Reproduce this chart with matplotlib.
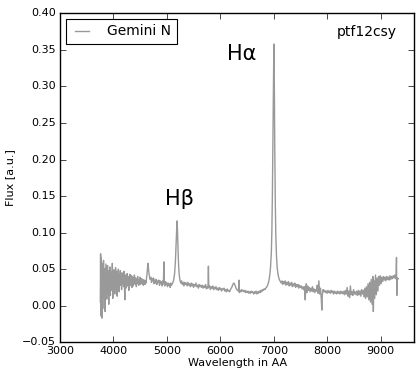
import matplotlib
matplotlib.use("Agg")
import matplotlib.pyplot as plt

# spectrum (wavelength in AA, flux in a.u.)
wave = [3755, 3760, 3765, 3770, 3775, 3780, 3785, 3790, 3795, 3800,
        3808, 3815, 3822, 3830, 3838, 3845, 3852, 3860, 3868, 3875,
        3883, 3890, 3898, 3905, 3913, 3920, 3928, 3935, 3943, 3950,
        3958, 3965, 3973, 3980, 3988, 3995, 4003, 4010, 4018, 4025,
        4033, 4040, 4048, 4055, 4063, 4070, 4078, 4085, 4093, 4100,
        4108, 4115, 4123, 4130, 4138, 4145, 4153, 4160, 4168, 4175,
        4183, 4190, 4198, 4205, 4213, 4220, 4228, 4235, 4243, 4250,
        4258, 4265, 4273, 4280, 4288, 4295, 4303, 4310, 4318, 4325,
        4333, 4340, 4348, 4355, 4363, 4370, 4378, 4385, 4393, 4400,
        4408, 4415, 4423, 4430, 4438, 4445, 4453, 4460, 4468, 4475,
        4483, 4490, 4498, 4505, 4513, 4520, 4528, 4535, 4543, 4550,
        4558, 4565, 4573, 4580, 4590, 4600, 4610, 4620, 4632, 4645,
        4655, 4665, 4675, 4688, 4700, 4712, 4725, 4738, 4750, 4762,
        4775, 4788, 4800, 4812, 4825, 4838, 4850, 4862, 4875, 4888,
        4900, 4912, 4925, 4935, 4945, 4950, 4962, 4975, 4988, 5000,
        5012, 5025, 5038, 5050, 5062, 5075, 5088, 5100, 5115, 5130,
        5145, 5160, 5170, 5180, 5190, 5200, 5210, 5220, 5232, 5245,
        5260, 5275, 5290, 5305, 5320, 5335, 5350, 5365, 5380, 5395,
        5410, 5425, 5440, 5455, 5470, 5485, 5500, 5515, 5530, 5545,
        5560, 5575, 5590, 5605, 5620, 5635, 5650, 5665, 5680, 5695,
        5710, 5725, 5740, 5755, 5770, 5778, 5785, 5800, 5815, 5830,
        5845, 5860, 5875, 5890, 5905, 5920, 5935, 5950, 5965, 5980,
        5995, 6010, 6025, 6040, 6055, 6070, 6085, 6100, 6115, 6130,
        6145, 6160, 6175, 6190, 6205, 6220, 6235, 6250, 6265, 6280,
        6295, 6310, 6325, 6340, 6350, 6357, 6370, 6385, 6400, 6415,
        6430, 6445, 6460, 6475, 6490, 6505, 6520, 6535, 6550, 6565,
        6580, 6595, 6610, 6625, 6640, 6655, 6670, 6685, 6700, 6715,
        6730, 6745, 6760, 6775, 6790, 6805, 6820, 6835, 6850, 6865,
        6880, 6895, 6910, 6925, 6940, 6955, 6965, 6975, 6985, 6995,
        7003, 7011, 7020, 7030, 7040, 7052, 7065, 7080, 7095, 7110,
        7125, 7140, 7155, 7170, 7185, 7200, 7215, 7230, 7245, 7260,
        7275, 7290, 7305, 7320, 7335, 7350, 7365, 7380, 7395, 7410,
        7425, 7440, 7455, 7470, 7485, 7500, 7515, 7530, 7545, 7560,
        7575, 7590, 7598, 7610, 7622, 7635, 7650, 7665, 7680, 7695,
        7710, 7725, 7740, 7755, 7770, 7785, 7800, 7815, 7830, 7845,
        7860, 7875, 7890, 7900, 7910, 7925, 7940, 7955, 7970, 7985,
        8000, 8015, 8030, 8045, 8060, 8075, 8090, 8105, 8120, 8135,
        8150, 8165, 8180, 8195, 8210, 8225, 8240, 8255, 8270, 8285,
        8300, 8315, 8330, 8345, 8360, 8375, 8390, 8405, 8420, 8435,
        8450, 8465, 8480, 8495, 8510, 8525, 8540, 8555, 8570, 8585,
        8600, 8615, 8630, 8645, 8660, 8675, 8690, 8705, 8720, 8735,
        8750, 8765, 8780, 8795, 8810, 8825, 8840, 8855, 8865, 8875,
        8890, 8905, 8920, 8935, 8950, 8965, 8980, 8995, 9010, 9025,
        9040, 9055, 9070, 9085, 9100, 9115, 9130, 9145, 9160, 9175,
        9190, 9205, 9220, 9235, 9250, 9265, 9280, 9290, 9298, 9303,
        9310, 9320, 9330]

flux = [0.005, 0.071, -0.014, 0.066, 0.022, 0.048, -0.017, 0.038, 0.058, -0.004,
        0.030, 0.062, 0.012, 0.044, 0.051, -0.008, 0.026, 0.057, 0.033, 0.009,
        0.041, 0.055, 0.018, 0.036, 0.002, 0.048, 0.029, 0.053, 0.014, 0.039,
        0.046, 0.021, 0.031, 0.058, 0.010, 0.037, 0.027, 0.049, 0.044, 0.016,
        0.035, 0.052, 0.024, 0.030, 0.047, 0.013, 0.040, 0.033, 0.050, 0.025,
        0.019, 0.043, 0.036, 0.048, 0.028, 0.034, 0.022, 0.045, 0.039, 0.030,
        0.041, 0.026, 0.047, 0.033, 0.008, 0.036, 0.042, 0.024, 0.038, 0.031,
        0.044, 0.027, 0.035, 0.040, 0.021, 0.037, 0.032, 0.043, 0.028, 0.036,
        0.030, 0.041, 0.025, 0.034, 0.039, 0.027, 0.036, 0.031, 0.042, 0.033,
        0.029, 0.038, 0.034, 0.026, 0.037, 0.032, 0.040, 0.030, 0.035, 0.028,
        0.036, 0.033, 0.039, 0.029, 0.034, 0.031, 0.037, 0.033, 0.030, 0.036,
        0.028, 0.033, 0.030, 0.035, 0.029, 0.034, 0.031, 0.038, 0.046, 0.058,
        0.052, 0.044, 0.040, 0.036, 0.039, 0.032, 0.037, 0.034, 0.038, 0.030,
        0.035, 0.031, 0.036, 0.029, 0.034, 0.032, 0.035, 0.028, 0.034, 0.030,
        0.033, 0.027, 0.034, 0.030, 0.060, 0.031, 0.027, 0.033, 0.029, 0.031,
        0.026, 0.031, 0.028, 0.030, 0.025, 0.031, 0.028, 0.030, 0.032, 0.036,
        0.044, 0.060, 0.080, 0.104, 0.116, 0.102, 0.075, 0.055, 0.042, 0.035,
        0.031, 0.034, 0.029, 0.032, 0.027, 0.032, 0.029, 0.031, 0.027, 0.032,
        0.028, 0.030, 0.026, 0.031, 0.027, 0.030, 0.025, 0.029, 0.027, 0.031,
        0.026, 0.028, 0.024, 0.029, 0.026, 0.028, 0.025, 0.028, 0.024, 0.027,
        0.025, 0.029, 0.023, 0.026, 0.024, 0.054, 0.025, 0.027, 0.022, 0.026,
        0.024, 0.027, 0.022, 0.025, 0.023, 0.026, 0.022, 0.024, 0.021, 0.025,
        0.022, 0.024, 0.020, 0.023, 0.022, 0.024, 0.020, 0.022, 0.019, 0.023,
        0.020, 0.021, 0.019, 0.022, 0.024, 0.026, 0.029, 0.031, 0.030, 0.027,
        0.024, 0.022, 0.021, 0.020, 0.035, 0.018, 0.021, 0.019, 0.022, 0.020,
        0.021, 0.019, 0.021, 0.018, 0.020, 0.018, 0.020, 0.017, 0.019, 0.017,
        0.020, 0.018, 0.019, 0.016, 0.019, 0.017, 0.020, 0.016, 0.019, 0.017,
        0.020, 0.018, 0.021, 0.019, 0.022, 0.021, 0.023, 0.022, 0.024, 0.025,
        0.027, 0.030, 0.034, 0.041, 0.052, 0.072, 0.100, 0.150, 0.230, 0.320,
        0.358, 0.310, 0.215, 0.140, 0.095, 0.068, 0.052, 0.043, 0.038, 0.035,
        0.033, 0.031, 0.034, 0.029, 0.033, 0.030, 0.034, 0.028, 0.032, 0.029,
        0.033, 0.027, 0.031, 0.028, 0.032, 0.026, 0.030, 0.027, 0.031, 0.025,
        0.029, 0.026, 0.029, 0.024, 0.028, 0.025, 0.027, 0.023, 0.026, 0.022,
        0.026, 0.008, 0.021, 0.030, 0.018, 0.027, 0.021, 0.025, 0.019, 0.024,
        0.020, 0.026, 0.019, 0.023, 0.018, 0.022, 0.020, 0.028, 0.017, 0.034,
        0.016, 0.024, 0.010, -0.006, 0.015, 0.022, 0.019, 0.021, 0.018, 0.020,
        0.017, 0.021, 0.018, 0.020, 0.017, 0.021, 0.018, 0.020, 0.016, 0.020,
        0.017, 0.019, 0.016, 0.020, 0.017, 0.019, 0.016, 0.020, 0.017, 0.019,
        0.016, 0.020, 0.015, 0.021, 0.016, 0.025, 0.013, 0.020, 0.011, 0.027,
        0.015, 0.019, 0.014, 0.022, 0.016, 0.019, 0.015, 0.020, 0.014, 0.021,
        0.015, 0.020, 0.013, 0.022, 0.016, 0.021, 0.012, 0.024, 0.010, 0.026,
        0.012, 0.030, 0.008, 0.032, 0.005, 0.036, 0.002, 0.040, -0.008, 0.034,
        0.010, 0.042, 0.015, 0.038, 0.020, 0.040, 0.028, 0.041, 0.030, 0.039,
        0.033, 0.040, 0.035, 0.039, 0.034, 0.040, 0.036, 0.039, 0.035, 0.041,
        0.036, 0.040, 0.037, 0.041, 0.038, 0.042, 0.037, 0.040, 0.066, 0.014,
        0.038, 0.036, 0.037]

label = "Gemini N"
obj_name = "ptf12csy"

plt.style.use("classic")
plt.rcParams["font.family"] = "DejaVu Sans"

fig = plt.figure(figsize=(4.18, 3.70), dpi=100, facecolor="white")
ax = fig.add_axes([0.1435, 0.075, 0.8475, 0.889])

ax.plot(wave, flux, color="#999999", lw=1.0, label=label)

ax.set_xlim(3000, 9630)
ax.set_ylim(-0.05, 0.40)
ax.set_xticks([3000, 4000, 5000, 6000, 7000, 8000, 9000])
ax.set_yticks([-0.05, 0.0, 0.05, 0.10, 0.15, 0.20, 0.25, 0.30, 0.35, 0.40])
ax.tick_params(labelsize=8, pad=3)

ax.set_xlabel("Wavelength in AA", fontsize=8, labelpad=1)
ax.set_ylabel("Flux [a.u.]", fontsize=8)

ax.text(6120, 0.345, "H\u03b1", fontsize=15, va="center")
ax.text(4960, 0.146, "H\u03b2", fontsize=15, va="center")
ax.text(0.78, 0.943, obj_name, transform=ax.transAxes, fontsize=10, va="center")

leg = ax.legend(loc="upper left", fontsize=10, borderaxespad=0.4,
                handlelength=1.6, handletextpad=1.0)
leg.get_frame().set_linewidth(0.8)

fig.savefig("out.png", dpi=100, facecolor="white")
